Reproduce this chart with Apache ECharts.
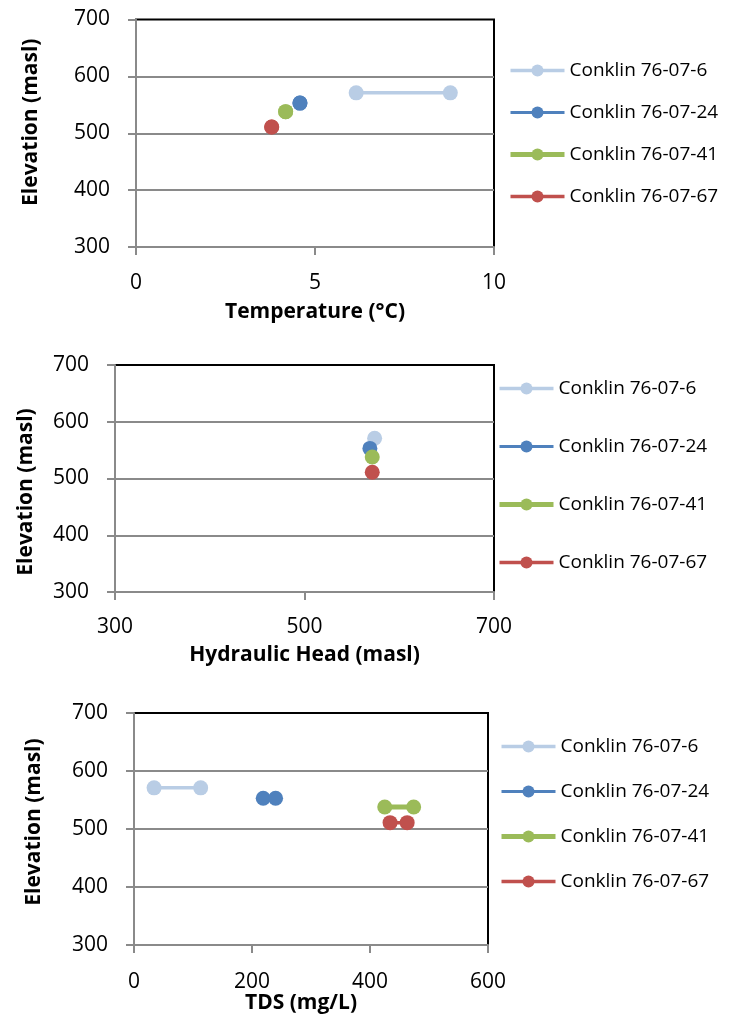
<!DOCTYPE html>
<html>
<head>
<meta charset="utf-8">
<script src="https://cdn.jsdelivr.net/npm/echarts@6/dist/echarts.min.js"></script>
<style>
  html, body { margin: 0; padding: 0; background: #fff; }
  #chart { width: 731px; height: 1015px; }
</style>
</head>
<body>
<div id="chart"></div>
<script>
// wells and their colours
const wells = ['Conklin 76-07-6', 'Conklin 76-07-24', 'Conklin 76-07-41', 'Conklin 76-07-67'];
const colors = ['#B9CDE5', '#4F81BD', '#9BBB59', '#C0504D'];
const lineWidths = [3.5, 3, 5, 3.5];

// elevation of each well screen (masl)
const elevation = [571, 553, 538, 511];

// values read per well (two samples each where visible)
const temperature = [[6.15, 8.78], [4.58, 4.58], [4.18, 4.18], [3.79, 3.79]];
const hydraulicHead = [[574], [569], [571.5], [571.5]];
const tds = [[34, 113], [219, 240], [425, 474], [434, 463]];

const font = 'Open Sans';
const gray = '#8a8a8a';

const panels = [
  { grid: { left: 136, top: 19.5, width: 358, height: 227.5 },
    x: { min: 0, max: 10, interval: 5, name: 'Temperature (°C)', gap: 55, margin: 26, pad: [0, 0, 0, 0] },
    yName: { gap: 94, pad: [0, 0, 0, 22] }, values: temperature,
    legend: { left: 508, top: 61, itemGap: 23 } },
  { grid: { left: 115, top: 365, width: 379, height: 227 },
    x: { min: 300, max: 700, interval: 200, name: 'Hydraulic Head (masl)', gap: 53, margin: 25, pad: [0, 0, 0, 0] },
    yName: { gap: 78, pad: [0, 27, 0, 0] }, values: hydraulicHead,
    legend: { left: 497, top: 379, itemGap: 39 } },
  { grid: { left: 134, top: 713, width: 354, height: 235 },
    x: { min: 0, max: 600, interval: 200, name: 'TDS (mg/L)', gap: 43, margin: 26, pad: [0, 20, 0, 0] },
    yName: { gap: 89, pad: [0, 0, 0, 14] }, values: tds,
    legend: { left: 499, top: 737, itemGap: 26 } }
];

const chart = echarts.init(document.getElementById('chart'));

const option = {
  animation: false,
  textStyle: { fontFamily: font },
  grid: panels.map(p => Object.assign({
    show: true, borderColor: '#000', borderWidth: 2, backgroundColor: 'transparent'
  }, p.grid)),
  xAxis: panels.map((p, i) => ({
    type: 'value', gridIndex: i,
    min: p.x.min, max: p.x.max, interval: p.x.interval,
    name: p.x.name, nameLocation: 'middle', nameGap: p.x.gap,
    nameTextStyle: { fontFamily: font, fontWeight: 'bold', fontSize: 21, color: '#000', padding: p.x.pad },
    axisLine: { show: true, onZero: false, lineStyle: { color: gray, width: 2 } },
    axisTick: { show: true, length: 8, lineStyle: { color: gray, width: 2 } },
    axisLabel: { fontFamily: font, fontSize: 21, color: '#000', margin: p.x.margin },
    splitLine: { show: false }
  })),
  yAxis: panels.map((p, i) => ({
    type: 'value', gridIndex: i,
    min: 300, max: 700, interval: 100,
    name: 'Elevation (masl)', nameLocation: 'middle', nameGap: p.yName.gap,
    nameTextStyle: { fontFamily: font, fontWeight: 'bold', fontSize: 21, color: '#000', padding: p.yName.pad },
    axisLine: { show: true, onZero: false, lineStyle: { color: gray, width: 2 } },
    axisTick: { show: true, length: 8, lineStyle: { color: gray, width: 2 } },
    axisLabel: { fontFamily: font, fontSize: 21, color: '#000', margin: 26 },
    splitLine: { show: true, showMinLine: false, showMaxLine: false, lineStyle: { color: gray, width: 2 } }
  })),
  legend: panels.map(p => ({
    orient: 'vertical', left: p.legend.left, top: p.legend.top, padding: 0,
    itemGap: p.legend.itemGap, itemWidth: 54, itemHeight: 15,
    data: wells.map((w, wi) => ({
      name: w,
      itemStyle: { color: colors[wi] },
      lineStyle: { color: colors[wi], width: lineWidths[wi] }
    })),
    selectedMode: false,
    textStyle: { fontFamily: font, fontSize: 19, color: '#000' }
  })),
  series: []
};

panels.forEach((p, pi) => {
  wells.forEach((w, wi) => {
    option.series.push({
      type: 'line', name: w,
      xAxisIndex: pi, yAxisIndex: pi,
      data: p.values[wi].map(v => [v, elevation[wi]]),
      symbol: 'circle', symbolSize: 15,
      itemStyle: { color: colors[wi] },
      lineStyle: { color: colors[wi], width: lineWidths[wi] }
    });
  });
});

chart.setOption(option);
</script>
</body>
</html>
